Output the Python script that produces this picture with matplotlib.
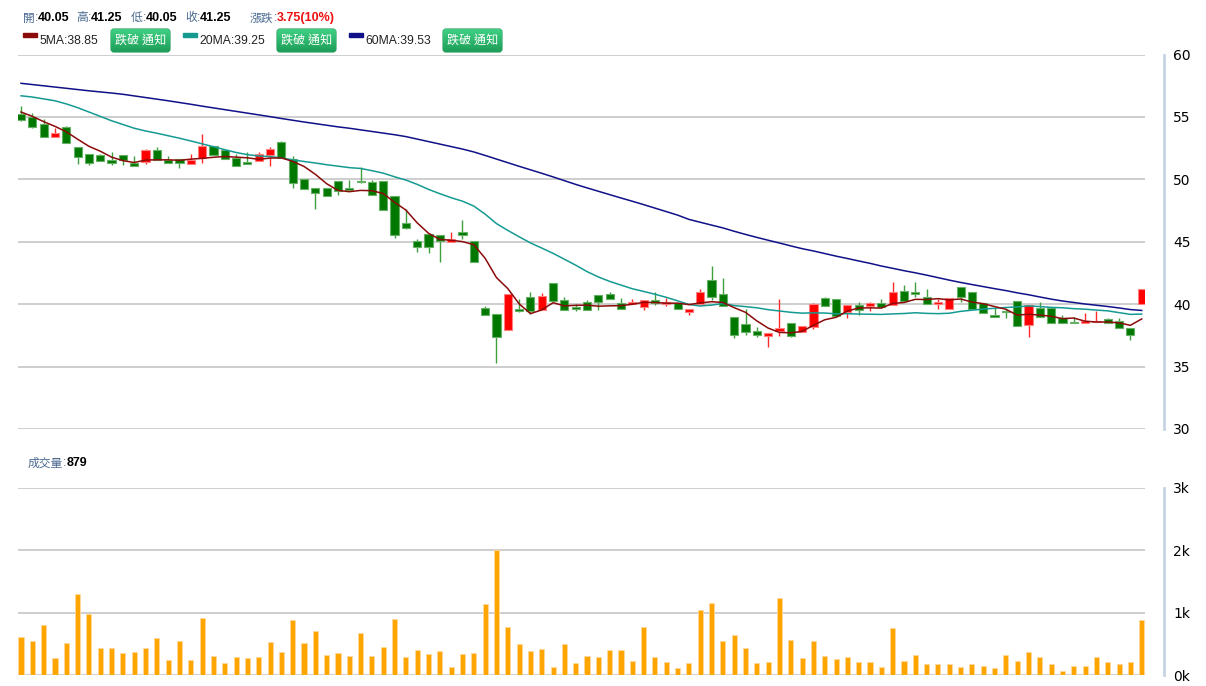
import numpy as np
import pandas as pd
import matplotlib
matplotlib.use("Agg")
import matplotlib.pyplot as plt
from matplotlib.patches import FancyBboxPatch, Rectangle

# daily OHLC (oldest -> newest)
opens = [55.24, 54.97, 54.47, 53.41, 54.20, 52.62, 52.06, 51.96, 51.53, 51.96,
         51.35, 51.40, 52.35, 51.53, 51.67, 51.27, 51.75, 52.67, 52.35, 51.72,
         51.43, 51.48, 51.93, 53.02, 51.67, 50.05, 49.30, 49.30, 49.87, 49.30,
         49.87, 49.76, 49.87, 48.63, 46.48, 45.08, 45.62, 45.54, 44.95, 45.75,
         45.08, 39.70, 39.22, 37.90, 39.62, 40.56, 39.52, 41.67, 40.32, 39.80,
         40.16, 40.70, 40.83, 40.10, 40.00, 39.79, 40.32, 40.05, 40.10, 39.38,
         40.05, 41.95, 40.78, 38.98, 38.42, 37.89, 37.49, 37.89, 38.50, 37.75,
         38.16, 40.51, 40.43, 39.38, 39.95, 39.87, 40.13, 39.95, 41.07, 40.96,
         40.61, 40.00, 39.60, 41.34, 40.96, 40.13, 39.14, 39.49, 40.29, 38.34,
         39.73, 39.73, 38.88, 38.61, 38.48, 38.56, 38.80, 38.66, 38.13, 40.05]
highs = [55.85, 55.30, 54.84, 54.13, 54.30, 52.62, 52.06, 52.06, 52.22, 51.96,
         51.88, 52.46, 52.62, 51.88, 51.67, 52.06, 53.65, 52.67, 52.35, 52.06,
         52.22, 52.22, 52.62, 53.07, 51.88, 50.05, 49.30, 49.30, 49.87, 49.92,
         51.00, 49.92, 49.87, 48.63, 47.63, 45.22, 45.62, 45.54, 45.75, 46.75,
         45.08, 39.84, 39.22, 40.83, 40.43, 40.97, 40.91, 41.67, 40.56, 40.05,
         40.32, 40.70, 40.94, 40.51, 40.40, 40.32, 40.99, 40.51, 40.10, 39.63,
         41.18, 43.05, 42.11, 38.98, 39.63, 38.16, 37.70, 40.45, 38.50, 38.29,
         40.11, 40.59, 40.43, 39.92, 40.16, 40.21, 40.40, 41.74, 41.55, 41.74,
         41.23, 40.40, 40.53, 41.34, 40.96, 40.13, 39.68, 39.60, 40.29, 39.95,
         40.16, 39.73, 39.14, 39.01, 39.33, 39.47, 38.88, 38.88, 38.13, 41.25]
lows = [54.66, 54.10, 53.39, 53.41, 52.94, 51.22, 51.16, 51.45, 51.16, 51.16,
        51.08, 51.22, 51.53, 51.35, 50.90, 51.27, 51.35, 51.96, 51.60, 51.08,
        51.27, 51.48, 51.08, 51.75, 49.29, 49.25, 47.63, 48.70, 48.79, 49.10,
        49.70, 48.79, 47.55, 45.27, 46.02, 44.22, 44.14, 43.39, 44.95, 45.22,
        43.39, 39.17, 35.27, 37.90, 39.36, 39.25, 39.52, 40.24, 39.52, 39.44,
        39.52, 39.52, 40.40, 39.63, 40.00, 39.52, 39.97, 39.84, 39.63, 39.12,
        40.05, 40.32, 39.84, 37.30, 37.57, 37.35, 36.55, 37.43, 37.35, 37.75,
        38.02, 39.89, 39.09, 38.90, 39.14, 39.49, 39.81, 39.95, 40.21, 40.56,
        40.00, 39.60, 39.60, 40.21, 39.63, 39.33, 39.01, 38.93, 38.26, 37.41,
        39.01, 38.53, 38.48, 38.48, 38.48, 38.56, 38.48, 38.13, 37.14, 40.05]
closes = [54.79, 54.20, 53.41, 53.73, 52.94, 51.83, 51.35, 51.45, 51.35, 51.53,
          51.08, 52.35, 51.53, 51.35, 51.35, 51.53, 52.67, 51.96, 51.67, 51.08,
          51.27, 52.06, 52.46, 51.75, 49.68, 49.25, 48.90, 48.70, 49.06, 49.17,
          49.76, 48.79, 47.55, 45.54, 46.08, 44.62, 44.62, 45.08, 45.22, 45.54,
          43.39, 39.17, 37.34, 40.83, 39.44, 39.44, 40.65, 40.24, 39.57, 39.65,
          39.52, 40.21, 40.40, 39.63, 40.21, 40.32, 40.10, 40.16, 39.63, 39.63,
          40.99, 40.59, 39.84, 37.57, 37.75, 37.57, 37.70, 38.10, 37.43, 38.29,
          40.05, 39.89, 39.09, 39.92, 39.55, 40.08, 39.81, 40.96, 40.27, 40.83,
          40.00, 40.16, 40.48, 40.61, 39.63, 39.33, 39.01, 39.41, 38.26, 39.95,
          39.01, 38.53, 38.48, 38.48, 38.69, 38.69, 38.53, 38.13, 37.50, 41.25]
volumes = [613, 554, 801, 274, 522, 1296, 973, 441, 441, 349,
           371, 441, 597, 237, 554, 237, 914, 312, 199, 296,
           274, 296, 538, 371, 890, 512, 704, 325, 363, 309,
           683, 309, 459, 907, 293, 405, 347, 384, 139, 347,
           363, 1136, 2005, 773, 496, 384, 421, 139, 496, 196,
           306, 290, 403, 403, 231, 780, 290, 215, 118, 194,
           1043, 1156, 548, 651, 435, 194, 215, 1231, 570, 274,
           548, 306, 253, 290, 215, 215, 140, 758, 231, 323,
           177, 177, 177, 140, 177, 156, 118, 323, 231, 366,
           290, 177, 65, 156, 156, 290, 215, 177, 215, 879]

# moving-average values before enough history is on screen
ma5_head = [55.40, 55.05, 54.63, 54.25]
ma20_head = [56.70, 56.60, 56.45, 56.30, 56.05, 55.75, 55.40, 55.05, 54.70, 54.40,
             54.10, 53.88, 53.70, 53.50, 53.30, 53.08, 52.85, 52.62, 52.38]
ma60_head = [57.70, 57.60, 57.50, 57.40, 57.30, 57.20, 57.10, 57.01, 56.92, 56.82,
             56.69, 56.56, 56.43, 56.30, 56.16, 56.02, 55.87, 55.73, 55.59, 55.45,
             55.31, 55.17, 55.03, 54.88, 54.74, 54.60, 54.47, 54.34, 54.21, 54.10,
             53.97, 53.84, 53.71, 53.58, 53.43, 53.23, 53.03, 52.83, 52.63, 52.43,
             52.20, 51.92, 51.63, 51.34, 51.05, 50.77, 50.49, 50.20, 49.90, 49.60,
             49.32, 49.05, 48.78, 48.51, 48.25, 47.98, 47.70, 47.42, 47.14]

price_ticks = [30, 35, 40, 45, 50, 55, 60]
vol_ticks = [0, 1000, 2000, 3000]
vol_labels = ["0k", "1k", "2k", "3k"]

W, H = 1206, 686
NUM = "Liberation Sans"
CJK = ["Noto Sans CJK TC", "DejaVu Sans"]
LABEL_C = "#4a6a90"

closes_s = pd.Series(closes)


def with_head(ma, head):
    ma = ma.to_numpy().copy()
    ma[:len(head)] = head
    return ma


ma5 = with_head(closes_s.rolling(5).mean(), ma5_head)
ma20 = with_head(closes_s.rolling(20).mean(), ma20_head)
ma60 = with_head(closes_s.rolling(60).mean(), ma60_head)

fig = plt.figure(figsize=(W / 100, H / 100), dpi=100)
renderer = fig.canvas.get_renderer()


def px_axes(x0, y0, x1, y1):
    return fig.add_axes([x0 / W, 1 - y1 / H, (x1 - x0) / W, (y1 - y0) / H])


ax = px_axes(18, 54.6, 1145, 429)
axv = px_axes(18, 487.8, 1145, 675.3)

idx = np.arange(len(closes))
o = np.array(opens)
c = np.array(closes)
up = c >= o
face = np.where(up, "#ff0000", "#007800")
edge = np.where(up, "#ff8080", "#66b066")
wick = np.where(up, "#ff2a2a", "#3f9f3f")

ax.vlines(idx, lows, highs, colors=wick, lw=1.0, zorder=2)
ax.bar(idx, np.maximum(np.abs(c - o), 0.08), bottom=np.minimum(o, c), width=0.72,
       color=face, edgecolor=edge, linewidth=0.8, zorder=3)
ax.plot(idx, ma60, color="#101088", lw=1.1, zorder=4)
ax.plot(idx, ma20, color="#159a92", lw=1.1, zorder=4)
ax.plot(idx, ma5, color="#8b0a0a", lw=1.1, zorder=5)

axv.bar(idx, volumes, width=0.45, color="#ffa500", edgecolor="#ffd79a", linewidth=0.6, zorder=3)

for a, lo, hi, ticks, labels in [(ax, 30, 60, price_ticks, [str(t) for t in price_ticks]),
                                 (axv, 0, 3000, vol_ticks, vol_labels)]:
    a.set_xlim(-0.265, 99.29)
    a.set_ylim(lo, hi)
    a.set_xticks([])
    a.yaxis.tick_right()
    a.set_yticks(ticks)
    a.set_yticklabels(labels, va="baseline", fontfamily=NUM, fontsize=8.5, color="#606060")
    a.tick_params(axis="y", length=0, pad=6.5)
    a.grid(axis="y", color="#c6c6c6", lw=1.2, zorder=0)
    a.set_axisbelow(True)
    for s in ["top", "left", "bottom"]:
        a.spines[s].set_visible(False)
    a.spines["right"].set_position(("outward", 13.7))
    a.spines["right"].set_color("#c8d4e4")
    a.spines["right"].set_linewidth(2)
    a.set_facecolor("none")

# header overlay in pixel coordinates
ov = fig.add_axes([0, 0, 1, 1], zorder=10)
ov.set_xlim(0, W)
ov.set_ylim(H, 0)
ov.axis("off")


def seq(x, y, pieces):
    # draw text pieces one after the other, starting at pixel x
    for s, kw in pieces:
        t = ov.text(x, y, s, ha="left", va="center", **kw)
        x += t.get_window_extent(renderer).width
    return x


lab_kw = dict(color=LABEL_C, fontfamily=CJK, fontsize=8.5)
num_kw = dict(color="black", fontfamily=NUM, fontsize=9, fontweight="bold")

row1 = [(23, "開", "40.05"), (76, "高", "41.25"), (131, "低", "40.05"), (185, "收", "41.25")]
for lx, lab, num in row1:
    seq(lx, 18, [(lab, lab_kw), (":", dict(lab_kw, fontfamily=NUM)), (num, num_kw)])
seq(250, 18, [("漲跌", lab_kw), (":", dict(lab_kw, fontfamily=NUM)),
              ("3.75(10%)", dict(num_kw, color="#ee1111"))])

legend = [(23, "#8b0a0a", "5MA:38.85", 111), (183, "#159a92", "20MA:39.25", 277),
          (349, "#101088", "60MA:39.53", 443)]
grad = np.linspace(0, 1, 24).reshape(-1, 1)
gcmap = matplotlib.colors.LinearSegmentedColormap.from_list("g", ["#3fcf84", "#1e9e58"])
for sx, col, lab, bx in legend:
    ov.add_patch(Rectangle((sx, 32.5), 14, 4.5, color=col))
    ov.text(sx + 16, 40.5, lab, ha="left", va="center", fontsize=8.7,
            color="#222222", fontfamily=NUM)
    btn = FancyBboxPatch((bx, 29), 59, 23, boxstyle="round,pad=0,rounding_size=3",
                         fc="none", ec="#1d9a55", lw=0.8)
    ov.add_patch(btn)
    im = ov.imshow(grad, extent=[bx, bx + 59, 52, 29], cmap=gcmap, aspect="auto",
                   interpolation="bilinear", zorder=1)
    im.set_clip_path(btn)
    ov.text(bx + 29.5, 40.5, "跌破 通知", ha="center", va="center", fontsize=8.7,
            color="white", fontfamily=CJK, zorder=3)

seq(28, 463, [("成交量", lab_kw), (":", dict(lab_kw, fontfamily=NUM)), ("879", num_kw)])

ov.set_xlim(0, W)
ov.set_ylim(H, 0)

fig.savefig("out.png", dpi=100)
